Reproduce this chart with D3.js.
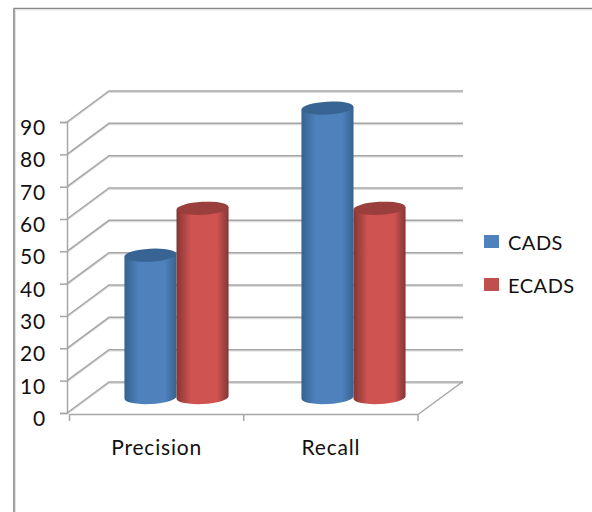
<!DOCTYPE html>
<html>
<head>
<meta charset="utf-8">
<script src="https://cdn.jsdelivr.net/npm/d3@7"></script>
<style>
  html, body { margin: 0; padding: 0; background: #fff; }
  svg { display: block; }
  text { font-family: Lato, "Open Sans", sans-serif; fill: #111; letter-spacing: 0.8px; }
</style>
</head>
<body>
<svg id="chart" width="592" height="512"></svg>
<script>
const categories = ["Precision", "Recall"];
const seriesNames = ["CADS", "ECADS"];
const cadsValues = [44, 89.5];
const ecadsValues = [58.5, 58.5];
const valueTicks = [0, 10, 20, 30, 40, 50, 60, 70, 80, 90];

const seriesColors = {
  CADS:  { edge: "#35628f", mid: "#4f81bd", cap: "#386493", swatch: "#4f81bd" },
  ECADS: { edge: "#853634", mid: "#cf5450", cap: "#9a3f3c", swatch: "#c0504d" }
};

const svg = d3.select("#chart");
const gridColor = "#a6a6a6";
const depth = { x: 42, y: -31 };

const y = d3.scaleLinear().domain([0, 90]).range([413, 122]);
const x = d3.scaleBand().domain(categories).range([69.5, 418]);
// Bars are laid out halfway through the chart's depth, on a slightly wider band
const barX = d3.scaleBand().domain(categories).range([67 + depth.x / 2, 421 + depth.x / 2]);
const inner = d3.scaleBand().domain(seriesNames)
  .range([0, barX.bandwidth()]).paddingOuter(0.7).paddingInner(0);

// Chart frame, open towards the right and bottom edges
svg.append("path")
  .attr("d", "M14 512V8.5H592")
  .attr("fill", "none").attr("stroke", "#8a8a8a").attr("stroke-width", 1.6);
svg.append("path")
  .attr("d", "M15.5 512V10H592")
  .attr("fill", "none").attr("stroke", "#e6e6e6").attr("stroke-width", 1);

// Walls: side-wall diagonals and back-wall gridlines at every tick
const grid = svg.append("g").attr("fill", "none");
function wallPath(v) {
  const front = y(v);
  return d3.line()([
    [67, front],
    [67 + depth.x, front + depth.y],
    [463, front + depth.y]
  ]);
}
grid.selectAll("path.shadow").data(valueTicks).join("path")
  .attr("class", "shadow")
  .attr("d", wallPath)
  .attr("transform", "translate(0,1.2)")
  .attr("stroke", "#dcdcdc").attr("stroke-width", 1.4);
grid.selectAll("path.line").data(valueTicks).join("path")
  .attr("class", "line")
  .attr("d", wallPath)
  .attr("stroke", gridColor).attr("stroke-width", 1.5);

// Floor edge on the right-hand side
const floorY = y(0) + 1.5;
svg.append("path")
  .attr("d", d3.line()([[418, floorY], [418 + 45, floorY - 33]]))
  .attr("fill", "none").attr("stroke", gridColor).attr("stroke-width", 1.5);

// Value axis
const yAxis = svg.append("g")
  .attr("transform", "translate(67,0)")
  .call(d3.axisLeft(y).tickValues(valueTicks).tickSize(7).tickPadding(14));
yAxis.select(".domain").attr("stroke", gridColor).attr("stroke-width", 1.5);
yAxis.selectAll("line").attr("stroke", gridColor).attr("stroke-width", 1.5);
yAxis.selectAll("text")
  .attr("font-size", 21).attr("dy", "0.6em")
  .style("font-family", "Lato").attr("fill", "#111");

// Category axis, with tick marks on the band boundaries
const xAxis = svg.append("g").attr("transform", `translate(0,${floorY})`);
xAxis.append("line")
  .attr("x1", x.range()[0]).attr("x2", x.range()[1])
  .attr("stroke", gridColor).attr("stroke-width", 1.5);
const boundaries = [...categories.map(c => x(c)), x.range()[1]];
xAxis.selectAll("line.tick").data(boundaries).join("line")
  .attr("class", "tick")
  .attr("x1", d => d).attr("x2", d => d)
  .attr("y1", 0).attr("y2", 6.5)
  .attr("stroke", gridColor).attr("stroke-width", 1.5);
xAxis.selectAll("text").data(categories).join("text")
  .attr("x", d => x(d) + x.bandwidth() / 2)
  .attr("y", 40.5)
  .attr("text-anchor", "middle")
  .attr("font-size", 21)
  .text(d => d);

// Cylinder shading
const defs = svg.append("defs");
seriesNames.forEach(name => {
  const c = seriesColors[name];
  const g = defs.append("linearGradient").attr("id", "body-" + name);
  [[0, c.edge], [0.28, c.mid], [0.55, c.mid], [0.78, c.mid], [1, c.edge]].forEach(([o, col]) =>
    g.append("stop").attr("offset", o).attr("stop-color", col));
});

// Cylinders with slightly tilted ends
const rows = categories.flatMap((cat, i) => [
  { cat, series: "CADS", value: cadsValues[i] },
  { cat, series: "ECADS", value: ecadsValues[i] }
]);
const ry = 6.5;
const tiltDeg = -3;
const bars = svg.append("g").selectAll("g").data(rows).join("g");
bars.each(function (d) {
  const g = d3.select(this);
  const left = barX(d.cat) + inner(d.series);
  const w = inner.bandwidth();
  const rx = w / 2;
  const lift = rx * Math.sin(-tiltDeg * Math.PI / 180);
  const base = y(0) + depth.y / 2;
  const top = y(d.value) + depth.y / 2;
  g.append("path")
    .attr("d", `M${left} ${top + lift}V${base + lift}A${rx} ${ry} ${tiltDeg} 0 0 ${left + w} ${base - lift}V${top - lift}Z`)
    .attr("fill", `url(#body-${d.series})`);
  g.append("ellipse")
    .attr("cx", left + rx).attr("cy", top)
    .attr("rx", rx).attr("ry", ry)
    .attr("transform", `rotate(${tiltDeg} ${left + rx} ${top})`)
    .attr("fill", seriesColors[d.series].cap);
});

// Legend
const legend = svg.append("g").selectAll("g").data(seriesNames).join("g")
  .attr("transform", (d, i) => `translate(484,${235 + i * 43})`);
legend.append("rect")
  .attr("width", 15).attr("height", 13)
  .attr("fill", d => seriesColors[d].swatch);
legend.append("text")
  .attr("x", 24).attr("y", 15)
  .attr("font-size", 20)
  .style("letter-spacing", "0.5px")
  .text(d => d);
</script>
</body>
</html>
